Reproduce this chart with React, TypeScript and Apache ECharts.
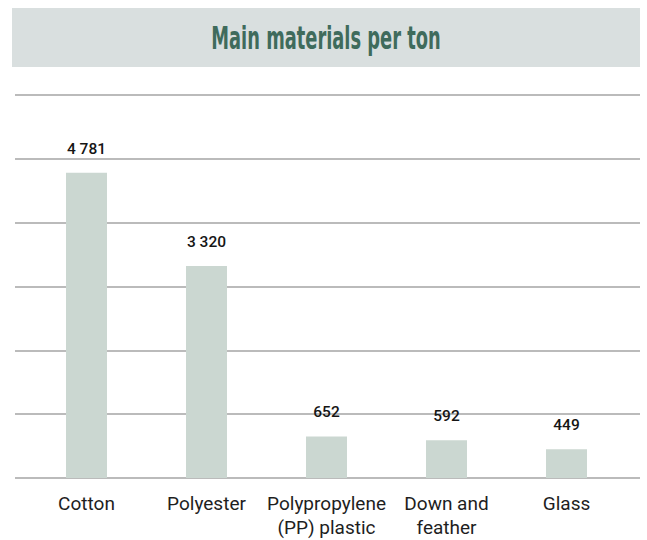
import React, { useEffect, useRef } from "react";
import * as echarts from "echarts";

const categories = ["Cotton", "Polyester", "Polypropylene\n(PP) plastic", "Down and\nfeather", "Glass"];
const values = [4781, 3320, 652, 592, 449];
const yMin = 0;
const yMax = 6000;
const yInterval = 1000;
const titleText = "Main materials per ton";

const fmt = (v: number) => String(v).replace(/\B(?=(\d{3})+(?!\d))/g, " ");

export default function App() {
  const ref = useRef<HTMLDivElement>(null);
  useEffect(() => {
    if (!ref.current) return;
    const chart = echarts.init(ref.current, undefined, { renderer: "svg" });
    chart.setOption({
      animation: false,
      backgroundColor: "#ffffff",
      graphic: [
        {
          type: "rect",
          left: 12,
          top: 8,
          shape: { width: 628, height: 59 },
          style: { fill: "#d9dfdf" },
          silent: true,
        },
        {
          type: "text",
          x: 326,
          y: 38,
          scaleX: 0.62,
          style: {
            text: titleText,
            fill: "#3f6b5c",
            font: "bold 32px 'DejaVu Sans Condensed', 'DejaVu Sans', sans-serif",
            textAlign: "center",
            textVerticalAlign: "middle",
          },
          silent: true,
        },
      ],
      grid: [
        { left: 15, right: 7, top: 95, bottom: 62 },
        { left: 26.5, right: 20.5, top: 95, bottom: 62 },
      ],
      xAxis: [
        { type: "value", gridIndex: 0, show: false, min: 0, max: 1 },
        {
          type: "category",
          gridIndex: 1,
          data: categories,
          axisLine: { show: false },
          axisTick: { show: false },
          axisLabel: {
            color: "#1e1e1e",
            fontFamily: "Roboto, sans-serif",
            fontSize: 19,
            lineHeight: 24,
            margin: 13,
            interval: 0,
          },
        },
      ],
      yAxis: [
        {
          type: "value",
          gridIndex: 0,
          min: yMin,
          max: yMax,
          interval: yInterval,
          axisLabel: { show: false },
          axisLine: { show: false },
          axisTick: { show: false },
          splitLine: { show: true, lineStyle: { color: "#a4a4a4", width: 1.5 } },
        },
        {
          type: "value",
          gridIndex: 1,
          min: yMin,
          max: yMax,
          interval: yInterval,
          show: false,
          splitLine: { show: false },
        },
      ],
      series: [
        {
          type: "bar",
          xAxisIndex: 1,
          yAxisIndex: 1,
          data: values,
          barWidth: 41,
          itemStyle: { color: "#cbd7d1" },
          label: {
            show: true,
            position: "top",
            distance: 16,
            color: "#151515",
            fontFamily: "Roboto, sans-serif",
            fontWeight: 500,
            fontSize: 15.5,
            formatter: (p: any) => fmt(p.value),
          },
        },
      ],
    });
    return () => chart.dispose();
  }, []);
  return (
    <div
      ref={ref}
      style={{ position: "fixed", left: 0, top: 0, width: 647, height: 540 }}
    />
  );
}
